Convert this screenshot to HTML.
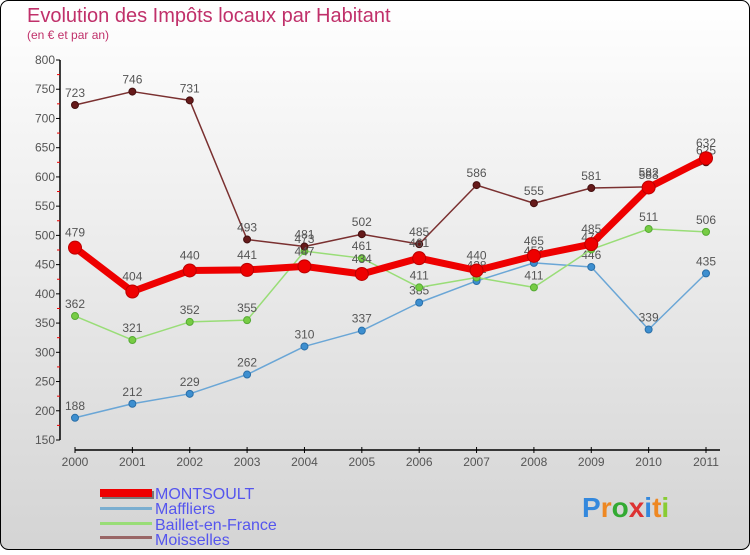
<!DOCTYPE html>
<html><head><meta charset="utf-8"><style>
body{margin:0;width:750px;height:550px;overflow:hidden;font-family:"Liberation Sans",sans-serif}
svg text{font-family:"Liberation Sans",sans-serif}
</style></head><body>
<svg width="750" height="550" xmlns="http://www.w3.org/2000/svg">
<defs><linearGradient id="bg" x1="0" y1="0" x2="0" y2="1"><stop offset="0" stop-color="#ffffff"/><stop offset="1" stop-color="#d4d4d4"/></linearGradient></defs>
<rect x="0.5" y="0.5" width="749" height="549" rx="8" fill="url(#bg)" stroke="#000"/>
<text x="27" y="22" font-size="20" fill="#c0306a">Evolution des Impôts locaux par Habitant</text>
<text x="27" y="39" font-size="12" fill="#c0306a">(en € et par an)</text>
<g id="axes"></g><g id="series"></g>
<g>
<rect x="102" y="491" width="52" height="8" fill="#777"/>
<rect x="100" y="489" width="52" height="8" fill="#ee0000"/>
<text x="155" y="499" font-size="16" fill="#5555ee">MONTSOULT</text>
<rect x="100" y="507" width="52" height="3" fill="#7aaed0"/>
<text x="155" y="514" font-size="16" fill="#5555ee">Maffliers</text>
<rect x="100" y="522" width="52" height="3" fill="#99dd77"/>
<text x="155" y="530" font-size="16" fill="#5555ee">Baillet-en-France</text>
<rect x="100" y="536" width="52" height="3" fill="#996666"/>
<text x="155" y="545" font-size="16" fill="#5555ee">Moisselles</text>
</g>
<text x="582" y="517" font-size="28" font-weight="bold"><tspan fill="#3388dd">P</tspan><tspan fill="#ee8822">r</tspan><tspan fill="#33aa33">o</tspan><tspan fill="#dd3333">x</tspan><tspan fill="#3388dd">i</tspan><tspan fill="#ee8822">t</tspan><tspan fill="#88cc33">i</tspan></text>
</svg>
<script>
const years=["2000","2001","2002","2003","2004","2005","2006","2007","2008","2009","2010","2011"];
const yTicks=[150,200,250,300,350,400,450,500,550,600,650,700,750,800];
const montsoult=[479,404,440,441,447,434,461,440,465,485,582,632];
const maffliers=[188,212,229,262,310,337,385,422,453,446,339,435];
const baillet=[362,321,352,355,473,461,411,428,411,476,511,506];
const moisselles=[723,746,731,493,481,502,485,586,555,581,583,625];
const NS="http://www.w3.org/2000/svg";
const X=i=>75+i*(706-75)/11;
const Y=v=>440-(v-150)*380/650;
function mk(t,a,p){const e=document.createElementNS(NS,t);for(const k in a)e.setAttribute(k,a[k]);p.appendChild(e);return e;}
const ax=document.getElementById('axes');
const yl=mk('line',{x1:60,y1:60,x2:60,y2:440,stroke:'#000','stroke-width':1.5},ax);


yTicks.forEach((v,i)=>{
 mk('line',{x1:56,y1:Y(v),x2:60,y2:Y(v),stroke:'#000'},ax);
 if(i<yTicks.length-1)mk('line',{x1:57,y1:Y(v+25),x2:60,y2:Y(v+25),stroke:'#e00'},ax);
 const t=mk('text',{x:55,y:Y(v)+4,'font-size':12,fill:'#555','text-anchor':'end'},ax);t.textContent=v;
 
 
});
const xl=mk('line',{x1:75,y1:450,x2:720,y2:450,stroke:'#000','stroke-width':1.5},ax);


years.forEach((y,i)=>{
 mk('line',{x1:X(i),y1:447,x2:X(i),y2:453,stroke:'#000'},ax);
 const t=mk('text',{x:X(i),y:466,'font-size':12,fill:'#555','text-anchor':'middle'},ax);t.textContent=y;
 
 
});
const sg=document.getElementById('series');
function series(name,data,color,w,r,fill,stroke){
 const g=mk('g',{},sg);
 
 
 mk('polyline',{points:data.map((v,i)=>X(i)+','+Y(v)).join(' '),fill:'none',stroke:color,'stroke-width':w,'stroke-linejoin':'round'},g);
 data.forEach((v,i)=>{
  const c=mk('circle',{cx:X(i),cy:Y(v),r:r,fill:fill,stroke:stroke},g);
  
  
  const t=mk('text',{x:X(i),y:Y(v)-8-(r>5?3:0),'font-size':12,fill:'#555','text-anchor':'middle'},g);t.textContent=v;
 });
}
series('maffliers',maffliers,'#6aa6d6',1.5,3.5,'#3d8fd0','#2a6fa8');
series('baillet',baillet,'#99dd77',1.5,3.5,'#77cc44','#55aa33');
series('moisselles',moisselles,'#7a3030',1.5,3.5,'#661a1a','#441010');
series('montsoult',montsoult,'#ee0000',7,6.5,'#ee0000','#bb0000');
</script>
</body></html>
